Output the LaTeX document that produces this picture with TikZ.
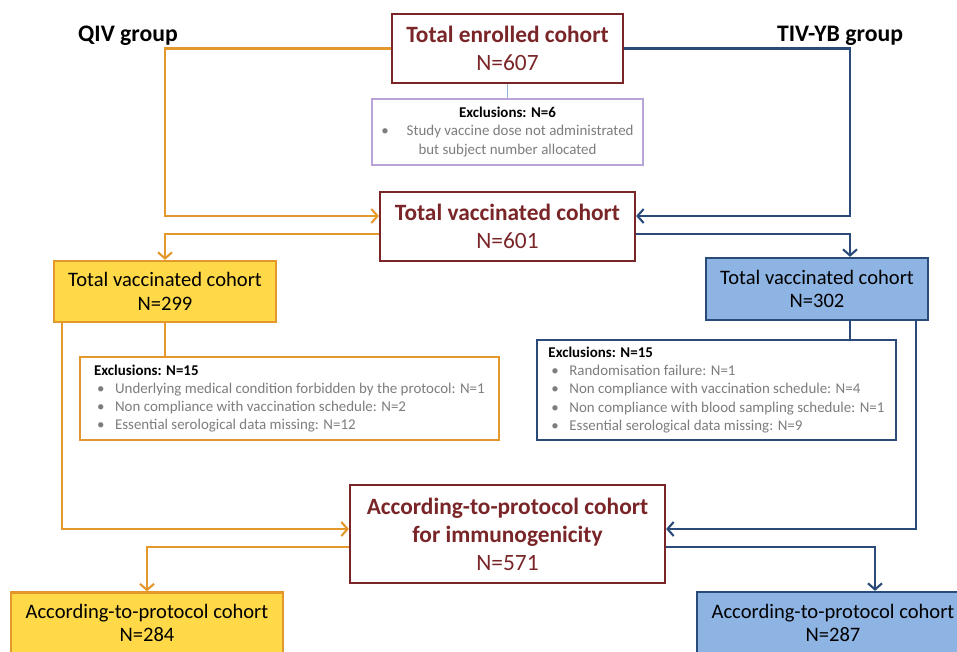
\documentclass[tikz,border=0pt]{standalone}
\usepackage{fontspec}
\setmainfont{Carlito}
\usetikzlibrary{arrows.meta}

\definecolor{cohred}{RGB}{122,38,40}
\definecolor{qivline}{RGB}{228,152,44}
\definecolor{qivfill}{RGB}{255,217,72}
\definecolor{tivline}{RGB}{42,74,122}
\definecolor{tivfill}{RGB}{142,180,227}
\definecolor{exlav}{RGB}{184,164,214}
\definecolor{exlink}{RGB}{150,180,216}
\definecolor{exgrey}{RGB}{125,125,125}

\newcommand{\xitem}[1]{\makebox[1.4em][l]{\hspace{0.2em}\textbullet}#1}

\tikzset{
  cbox/.style={rectangle, draw, line width=1.3pt, align=center, inner sep=2pt},
  mainbox/.style={cbox, draw=cohred, text=cohred,
                  font=\fontsize{13.3}{16}\selectfont},
  qivbox/.style={cbox, draw=qivline, fill=qivfill,
                 minimum width=4.44cm, minimum height=1.22cm,
                 font=\fontsize{11.7}{13.5}\selectfont},
  tivbox/.style={cbox, draw=tivline, fill=tivfill,
                 minimum width=4.44cm, minimum height=1.24cm,
                 font=\fontsize{11.7}{13.5}\selectfont},
  exclbox/.style={rectangle, draw, line width=1.1pt, inner sep=2pt,
                  text=exgrey, font=\fontsize{8.5}{10.4}\selectfont},
  qivlink/.style={draw=qivline, line width=1.2pt},
  tivlink/.style={draw=tivline, line width=1.2pt},
  qivarr/.style={qivlink, -{Straight Barb[length=3.5pt, width=8pt]}},
  tivarr/.style={tivlink, -{Straight Barb[length=3.5pt, width=8pt]}},
  grouplabel/.style={font=\fontsize{13.5}{16}\selectfont\bfseries},
}

\begin{document}
\begin{tikzpicture}[x=0.02cm, y=-0.02cm]

  \useasboundingbox (0,0) rectangle (957,652);
  \clip (0,0) rectangle (957,652);
  \fill[white] (0,0) rectangle (957,652);

  \node[grouplabel] (qivgrp) at (128,36) {QIV group};
  \node[grouplabel] (tivgrp) at (840,36) {TIV-YB group};

  \node[mainbox, minimum width=4.62cm, minimum height=1.38cm] (enr) at (507.5,48.5)
    {\textbf{Total enrolled cohort}\\N=607};

  \node[exclbox, draw=exlav, minimum width=5.42cm, minimum height=1.32cm, align=center] (ex6) at (507.5,132)
    {\textcolor{black}{\textbf{Exclusions: N=6}}\\
     \textbullet\hspace{1.2em}Study vaccine dose not administrated\\
     but subject number allocated};

  \node[mainbox, minimum width=5.10cm, minimum height=1.38cm] (vac) at (507.5,226.5)
    {\textbf{Total vaccinated cohort}\\N=601};

  \node[qivbox] (qvac) at (165,291.5) {Total vaccinated cohort\\N=299};
  \node[tivbox] (tvac) at (817,289) {Total vaccinated cohort\\N=302};

  \node[exclbox, draw=qivline, minimum width=8.38cm, minimum height=1.66cm, align=left] (qex) at (289.5,398.5)
    {\textcolor{black}{\textbf{Exclusions: N=15}}\\
     \xitem{Underlying medical condition forbidden by the protocol: N=1}\\
     \xitem{Non compliance with vaccination schedule: N=2}\\
     \xitem{Essential serological data missing: N=12}};

  \node[exclbox, draw=tivline, minimum width=7.18cm, minimum height=2.00cm, align=left] (tex) at (716.5,390)
    {\textcolor{black}{\textbf{Exclusions: N=15}}\\
     \xitem{Randomisation failure: N=1}\\
     \xitem{Non compliance with vaccination schedule: N=4}\\
     \xitem{Non compliance with blood sampling schedule: N=1}\\
     \xitem{Essential serological data missing: N=9}};

  \node[mainbox, minimum width=6.30cm, minimum height=1.96cm] (apc) at (507.5,534)
    {\textbf{According-to-protocol cohort}\\\textbf{for immunogenicity}\\N=571};

  \node[qivbox, minimum width=5.44cm] (qapc) at (147,623)
    {According-to-protocol cohort\\N=284};
  \node[tivbox, minimum width=5.44cm] (tapc) at (833,623)
    {According-to-protocol cohort\\N=287};

  % bend points
  \coordinate (vacinL)  at ([yshift=0.21cm]vac.west);
  \coordinate (vacinR)  at ([yshift=0.21cm]vac.east);
  \coordinate (vacoutL) at ([yshift=-0.15cm]vac.west);
  \coordinate (vacoutR) at ([yshift=-0.15cm]vac.east);
  \coordinate (apcinL)  at ([yshift=0.10cm]apc.west);
  \coordinate (apcinR)  at ([yshift=0.10cm]apc.east);
  \coordinate (apcoutL) at ([yshift=-0.26cm]apc.west);
  \coordinate (apcoutR) at ([yshift=-0.26cm]apc.east);
  \coordinate (tcol)   at (850,0);
  \coordinate (qside)  at (62,0);
  \coordinate (tside)  at (916,0);
  \coordinate (tcolb)  at (875,0);

  \draw[exlink, line width=1pt] (enr.south) -- (ex6.north);

  \draw[qivarr] (enr.west) -| (vacinL -| qvac.north) -- (vacinL);
  \draw[tivarr] (enr.east) -| (vacinR -| tcol) -- (vacinR);

  \draw[qivarr] (vacoutL) -| (qvac.north);
  \draw[tivarr] (vacoutR) -| (tvac.north -| tcol);

  \draw[qivlink] (qvac.south) -- (qvac.south |- qex.north);
  \draw[tivlink] (tvac.south -| tcol) -- (tex.north -| tcol);

  \draw[qivarr] (qvac.south -| qside) |- (apcinL);
  \draw[tivarr] (tvac.south -| tside) |- (apcinR);

  \draw[qivarr] (apcoutL) -| (qapc.north);
  \draw[tivarr] (apcoutR) -| (tapc.north -| tcolb);

\end{tikzpicture}
\end{document}
